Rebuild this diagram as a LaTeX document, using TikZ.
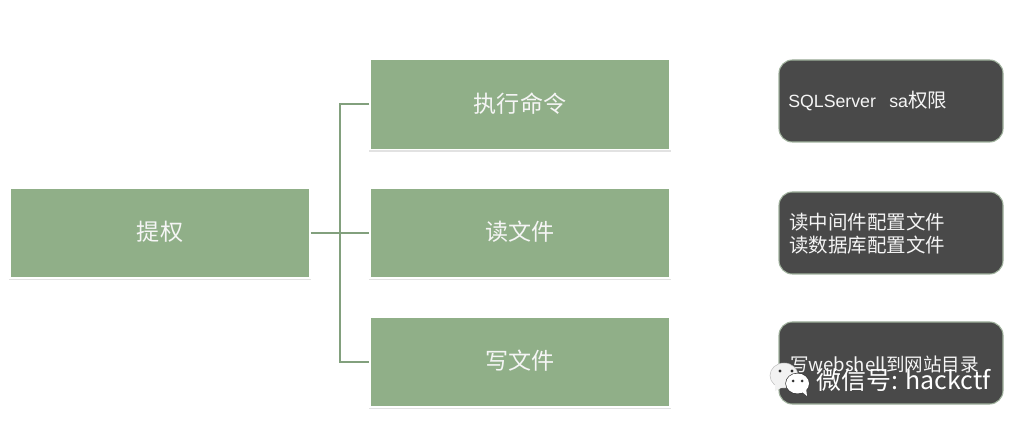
\documentclass[tikz,border=0pt]{standalone}
\usepackage{fontspec}
\setmainfont{Noto Sans CJK SC}
\newfontfamily\latinfont{Liberation Sans}
\definecolor{boxgreen}{RGB}{144,175,136}
\definecolor{darkbox}{RGB}{73,73,73}
\definecolor{wire}{RGB}{130,160,125}
\definecolor{softedge}{RGB}{120,145,115}
\definecolor{halo}{RGB}{226,226,226}
\definecolor{textwhite}{RGB}{245,245,245}
\definecolor{bubble}{RGB}{242,242,242}
\tikzset{
  x=0.75pt,y=-0.75pt,
  greenbox/.style={rectangle,minimum width=225pt,minimum height=67.5pt,inner sep=0pt,
    fill=boxgreen,draw=white,line width=1.2pt,text=textwhite,font=\fontsize{17.3}{20}\selectfont,
    preaction={draw=halo,fill=halo,line width=1.6pt,transform canvas={yshift=-0.9pt}}},
  darkbox/.style={rectangle,rounded corners=10pt,minimum width=168pt,minimum height=61.5pt,inner sep=0pt,
    fill=darkbox,draw=softedge!70!white,line width=0.8pt},
  darktext/.style={text=textwhite,font=\fontsize{14.6}{18}\selectfont,anchor=west,align=left,inner sep=0pt},
  wireline/.style={draw=wire,line width=1.5pt}
}
\begin{document}
\begin{tikzpicture}
\useasboundingbox (0,0) rectangle (1024,427);
\fill[white] (0,0) rectangle (1024,427);
\node[greenbox] (root) at (160,233) {\raisebox{3pt}{提权}};
\node[greenbox] (exec) at (520,104.5) {\raisebox{3pt}{执行命令}};
\node[greenbox] (read) at (520,233) {\raisebox{3pt}{读文件}};
\node[greenbox] (write) at (520,362) {\raisebox{3pt}{写文件}};
\coordinate (junction) at (340,233);
\draw[wireline] (root.east) -- (read.west);
\draw[wireline] (exec.west) -| (junction) |- (write.west);
\node[darkbox] (d1) at (891,101) {};
\node[darkbox] (d2) at (891,233) {};
\node[darkbox] (d3) at (891,363) {};
\node[darktext] (t1) at (788,101.5) {\latinfont\fontsize{13.3}{18}\selectfont SQLServer\hspace{10pt}sa{\normalfont\fontsize{14.6}{18}\selectfont 权限}};
\node[darktext] (t2) at (789,233.5) {读中间件配置文件\\[-0.3pt]读数据库配置文件};
\node[darktext,font=\fontsize{13.9}{18}\selectfont] (t3) at (790,364.5) {写webshell到网站目录};
% watermark
\fill[bubble,draw=black!25,line width=0.4pt] (784,375.5) circle[x radius=14,y radius=12.5];
\fill[bubble] (775,384) -- (775,391) -- (783,387) -- cycle;
\fill[darkbox!60!black] (780,371) circle (1.6) (792,371) circle (1.6);
\fill[darkbox!80!black] (797.5,383.5) circle[x radius=12.2,y radius=10.7];
\fill[white] (797.5,383.5) circle[x radius=11.5,y radius=10];
\fill[white] (801,391) -- (807,396) -- (806,388) -- cycle;
\fill[darkbox!70!black] (793,381) circle (1.5) (802,381) circle (1.5);
\node[anchor=west,inner sep=0pt,text=white,font=\fontsize{18.7}{22}\selectfont] (wm) at (816,380) {微信号: hackctf};
\end{tikzpicture}
\end{document}
